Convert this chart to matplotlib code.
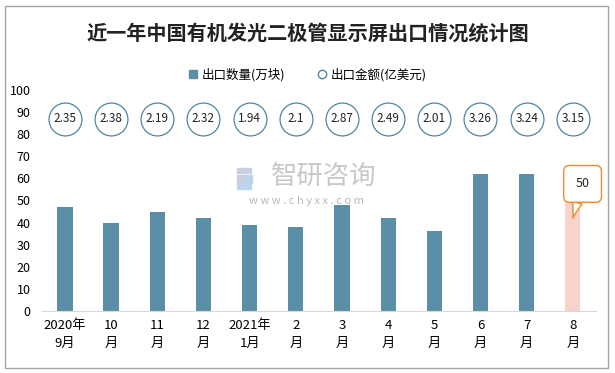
import matplotlib
matplotlib.use('Agg')
import matplotlib.pyplot as plt
from matplotlib.patches import Rectangle
from matplotlib.lines import Line2D
import numpy as np

plt.rcParams['font.family'] = ['Noto Sans CJK SC', 'DejaVu Sans']

# data
months = ['2020年\n9月', '10\n月', '11\n月', '12\n月', '2021年\n1月', '2\n月',
          '3\n月', '4\n月', '5\n月', '6\n月', '7\n月', '8\n月']
qty = [47, 40, 45, 42, 39, 38, 48, 42, 36, 62, 62, 50]      # 出口数量(万块)
amount = [2.35, 2.38, 2.19, 2.32, 1.94, 2.1, 2.87, 2.49, 2.01, 3.26, 3.24, 3.15]  # 出口金额(亿美元)

bar_col = '#5B8FA8'
last_col = '#F8D3C9'
circ_col = '#4F86A0'

fig = plt.figure(figsize=(6.15, 3.73), dpi=100)
fig.patches.append(Rectangle((0.008, 0.013), 0.98, 0.97, transform=fig.transFigure,
                             fill=False, ec='#A6A6A6', lw=1))
ax = fig.add_axes([0.068, 0.166, 0.901, 0.593])

x = np.arange(len(months))
colors = [bar_col] * (len(qty) - 1) + [last_col]
ax.bar(x, qty, width=0.33, color=colors, zorder=2)

# amounts shown as circles in a row near the top
ax.scatter(x, [87] * len(x), s=560, facecolor='white', edgecolor=circ_col, lw=0.9, zorder=3)
for xi, v in zip(x, amount):
    ax.text(xi, 87, str(v), ha='center', va='center', fontsize=8.5, color='#222222', zorder=4)

# callout for the last bar
ax.annotate(str(qty[-1]), xy=(x[-1], 42), xytext=(x[-1] + 0.21, 57.5),
            ha='center', va='center', fontsize=9, color='#222222',
            bbox=dict(boxstyle='round,pad=0.95,rounding_size=0.45', fc='white', ec='#ED8B2F', lw=1),
            arrowprops=dict(arrowstyle='wedge,tail_width=0.8,shrink_factor=0.4', fc='white',
                            ec='#ED8B2F', lw=1, shrinkA=0, shrinkB=0),
            zorder=5, annotation_clip=False)

ax.set_xlim(-0.5, len(x) - 0.5)
ax.set_ylim(0, 100)
ax.set_yticks(range(0, 101, 10))
ax.set_xticks(x)
ax.set_xticklabels(months, fontsize=9.5, linespacing=1.5)
ax.tick_params(axis='y', labelsize=9, length=0, pad=8)
ax.tick_params(axis='x', length=0, pad=6)
for s in ['top', 'right', 'left']:
    ax.spines[s].set_visible(False)
ax.spines['bottom'].set_color('#D9D9D9')

# watermark (logo blocks + text)
for rx, ry, rw, rh, c in [(0.386, 0.535, 0.022, 0.014, '#C9CFDD'),
                          (0.386, 0.510, 0.010, 0.022, '#C9CFDD'),
                          (0.399, 0.510, 0.010, 0.022, '#BBD6EC'),
                          (0.386, 0.493, 0.022, 0.013, '#BBD6EC')]:
    fig.patches.append(Rectangle((rx, ry), rw, rh, transform=fig.transFigure,
                                 color=c, zorder=1))
fig.text(0.526, 0.528, '智研咨询', fontsize=19, color='#C8C8C8', ha='center', va='center')
fig.text(0.499, 0.462, 'w w w . c h y x x . c o m', fontsize=8, color='#B8B8B8',
         ha='center', va='center')

fig.text(0.5, 0.912, '近一年中国有机发光二极管显示屏出口情况统计图', fontsize=14.5,
         fontweight='bold', ha='center', va='center', color='#222222')
handles = [Line2D([], [], ls='', marker='s', ms=6, mfc=bar_col, mec=bar_col),
           Line2D([], [], ls='', marker='o', ms=6, mfc='white', mec=circ_col)]
fig.legend(handles, ['出口数量(万块)', '出口金额(亿美元)'], loc='center',
           bbox_to_anchor=(0.5, 0.80), ncol=2, frameon=False, fontsize=9,
           handlelength=0.8, handletextpad=0.3, columnspacing=2.5)

fig.savefig('out.png', dpi=100)
